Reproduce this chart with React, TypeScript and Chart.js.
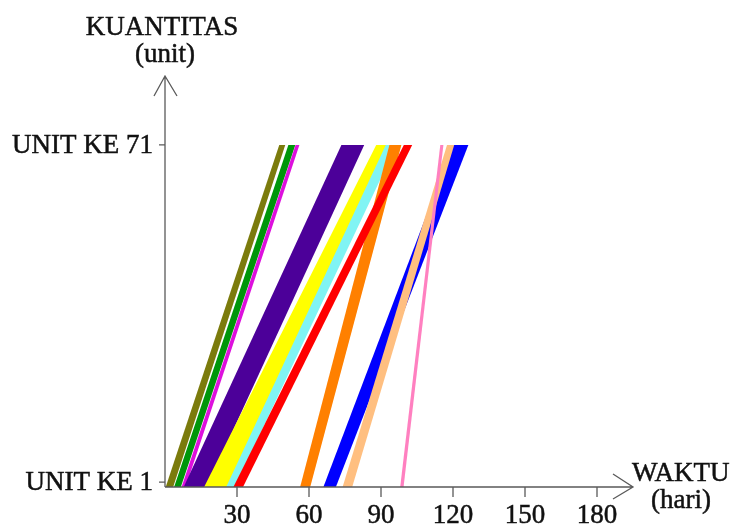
import React, { useEffect, useRef } from "react";
import { Chart, registerables } from "chart.js";

Chart.register(...registerables);

// Line-of-balance bands: start day at unit 1 (left/right edge) and at unit 71 (left/right edge)
const activityColors = [
  "#7b7b0c", // olive
  "#00960a", // green
  "#dd10dd", // magenta
  "#4c0099", // indigo
  "#ffff00", // yellow
  "#80f4f4", // cyan
  "#ff8000", // orange
  "#ff0000", // red
  "#0000ff", // blue
  "#ffbf80", // peach
  "#ff80c0", // pink
];
const bottomLeft = [0.3, 3.8, 6.9, 7.8, 16.3, 25.5, 56.3, 28.5, 66.0, 74.0, 98.0];
const bottomRight = [3.4, 6.6, 8.6, 17.5, 25.8, 29.2, 60.5, 32.5, 71.2, 78.0, 99.4];
const topLeft = [47.6, 51.4, 54.4, 73.5, 88.0, 92.0, 93.5, 99.5, 120.0, 117.5, 114.7];
const topRight = [50.1, 54.3, 56.0, 83.0, 95.5, 96.5, 98.5, 103.0, 126.4, 120.5, 116.0];

const firstUnit = 0;
const lastUnit = 71;

const xTickValues = [30, 60, 90, 120, 150, 180];
const yTickValues = [1, 71];
const yTickLabels = ["UNIT KE 1", "UNIT KE 71"];

const X_MAX = 195;
const Y_MAX = 85.3;
const FONT = '27px "Liberation Serif", "Times New Roman", serif';

const axesPlugin = {
  id: "lobAxes",
  afterDatasetsDraw(chart: any) {
    const ctx = chart.ctx as CanvasRenderingContext2D;
    const xs = chart.scales.x;
    const ys = chart.scales.y;
    const x0 = xs.getPixelForValue(0);
    const y0 = ys.getPixelForValue(0);
    const xEnd = xs.getPixelForValue(X_MAX);
    const yEnd = ys.getPixelForValue(Y_MAX);
    ctx.save();
    ctx.strokeStyle = "#5a5a5a";
    ctx.lineWidth = 1.3;
    // axes
    ctx.beginPath();
    ctx.moveTo(x0, y0);
    ctx.lineTo(xEnd, y0);
    ctx.moveTo(x0, y0);
    ctx.lineTo(x0, yEnd);
    // arrowheads
    ctx.moveTo(xEnd - 20, y0 - 13);
    ctx.lineTo(xEnd, y0);
    ctx.lineTo(xEnd - 20, y0 + 12);
    ctx.moveTo(x0 - 11, yEnd + 20);
    ctx.lineTo(x0, yEnd);
    ctx.lineTo(x0 + 12, yEnd + 20);
    // ticks
    for (const v of xTickValues) {
      const px = xs.getPixelForValue(v);
      ctx.moveTo(px, y0);
      ctx.lineTo(px, y0 + 10);
    }
    for (const v of yTickValues) {
      const py = ys.getPixelForValue(v);
      ctx.moveTo(x0 - 6, py);
      ctx.lineTo(x0, py);
    }
    ctx.stroke();

    ctx.fillStyle = "#111";
    ctx.strokeStyle = "#111";
    ctx.lineWidth = 0.5;
    ctx.font = FONT;
    const text = (s: string, x: number, y: number) => {
      ctx.fillText(s, x, y);
      ctx.strokeText(s, x, y);
    };
    ctx.textAlign = "center";
    ctx.textBaseline = "alphabetic";
    for (const v of xTickValues) {
      text(String(v), xs.getPixelForValue(v), y0 + 36);
    }
    ctx.textAlign = "right";
    ctx.textBaseline = "middle";
    yTickValues.forEach((v, i) => {
      text(yTickLabels[i], x0 - 12, ys.getPixelForValue(v) + 1);
    });
    // axis titles
    ctx.textAlign = "center";
    ctx.textBaseline = "alphabetic";
    text("KUANTITAS", x0 - 3, 35);
    text("(unit)", x0, 62);
    ctx.textAlign = "left";
    text("WAKTU", xEnd - 1, y0 - 6);
    ctx.textAlign = "center";
    text("(hari)", xEnd + 48, y0 + 21);
    ctx.restore();
  },
};

export default function App() {
  const ref = useRef<HTMLCanvasElement | null>(null);
  useEffect(() => {
    if (!ref.current) return;
    const n = activityColors.length;
    const datasets = activityColors.map((c, i) => ({
      data: [
        { x: bottomLeft[i], y: firstUnit },
        { x: bottomRight[i], y: firstUnit },
        { x: topRight[i], y: lastUnit },
        { x: topLeft[i], y: lastUnit },
      ],
      backgroundColor: c,
      borderColor: c,
      borderWidth: 0,
      pointRadius: 0,
      fill: "shape",
      tension: 0,
      order: n - i,
    }));
    const chart = new Chart(ref.current, {
      type: "line",
      data: { datasets: datasets as any },
      options: {
        animation: false,
        responsive: false,
        layout: { padding: { left: 165, right: 731 - 165 - X_MAX * 2.4, top: 76, bottom: 42 } },
        plugins: { legend: { display: false }, tooltip: { enabled: false } },
        scales: {
          x: { type: "linear", min: 0, max: X_MAX, display: false },
          y: { type: "linear", min: 0, max: Y_MAX, display: false },
        },
      },
      plugins: [axesPlugin],
    });
    return () => chart.destroy();
  }, []);
  return (
    <div style={{ position: "fixed", left: 0, top: 0, width: 731, height: 529, background: "#fff" }}>
      <canvas ref={ref} width={731} height={529} />
    </div>
  );
}
